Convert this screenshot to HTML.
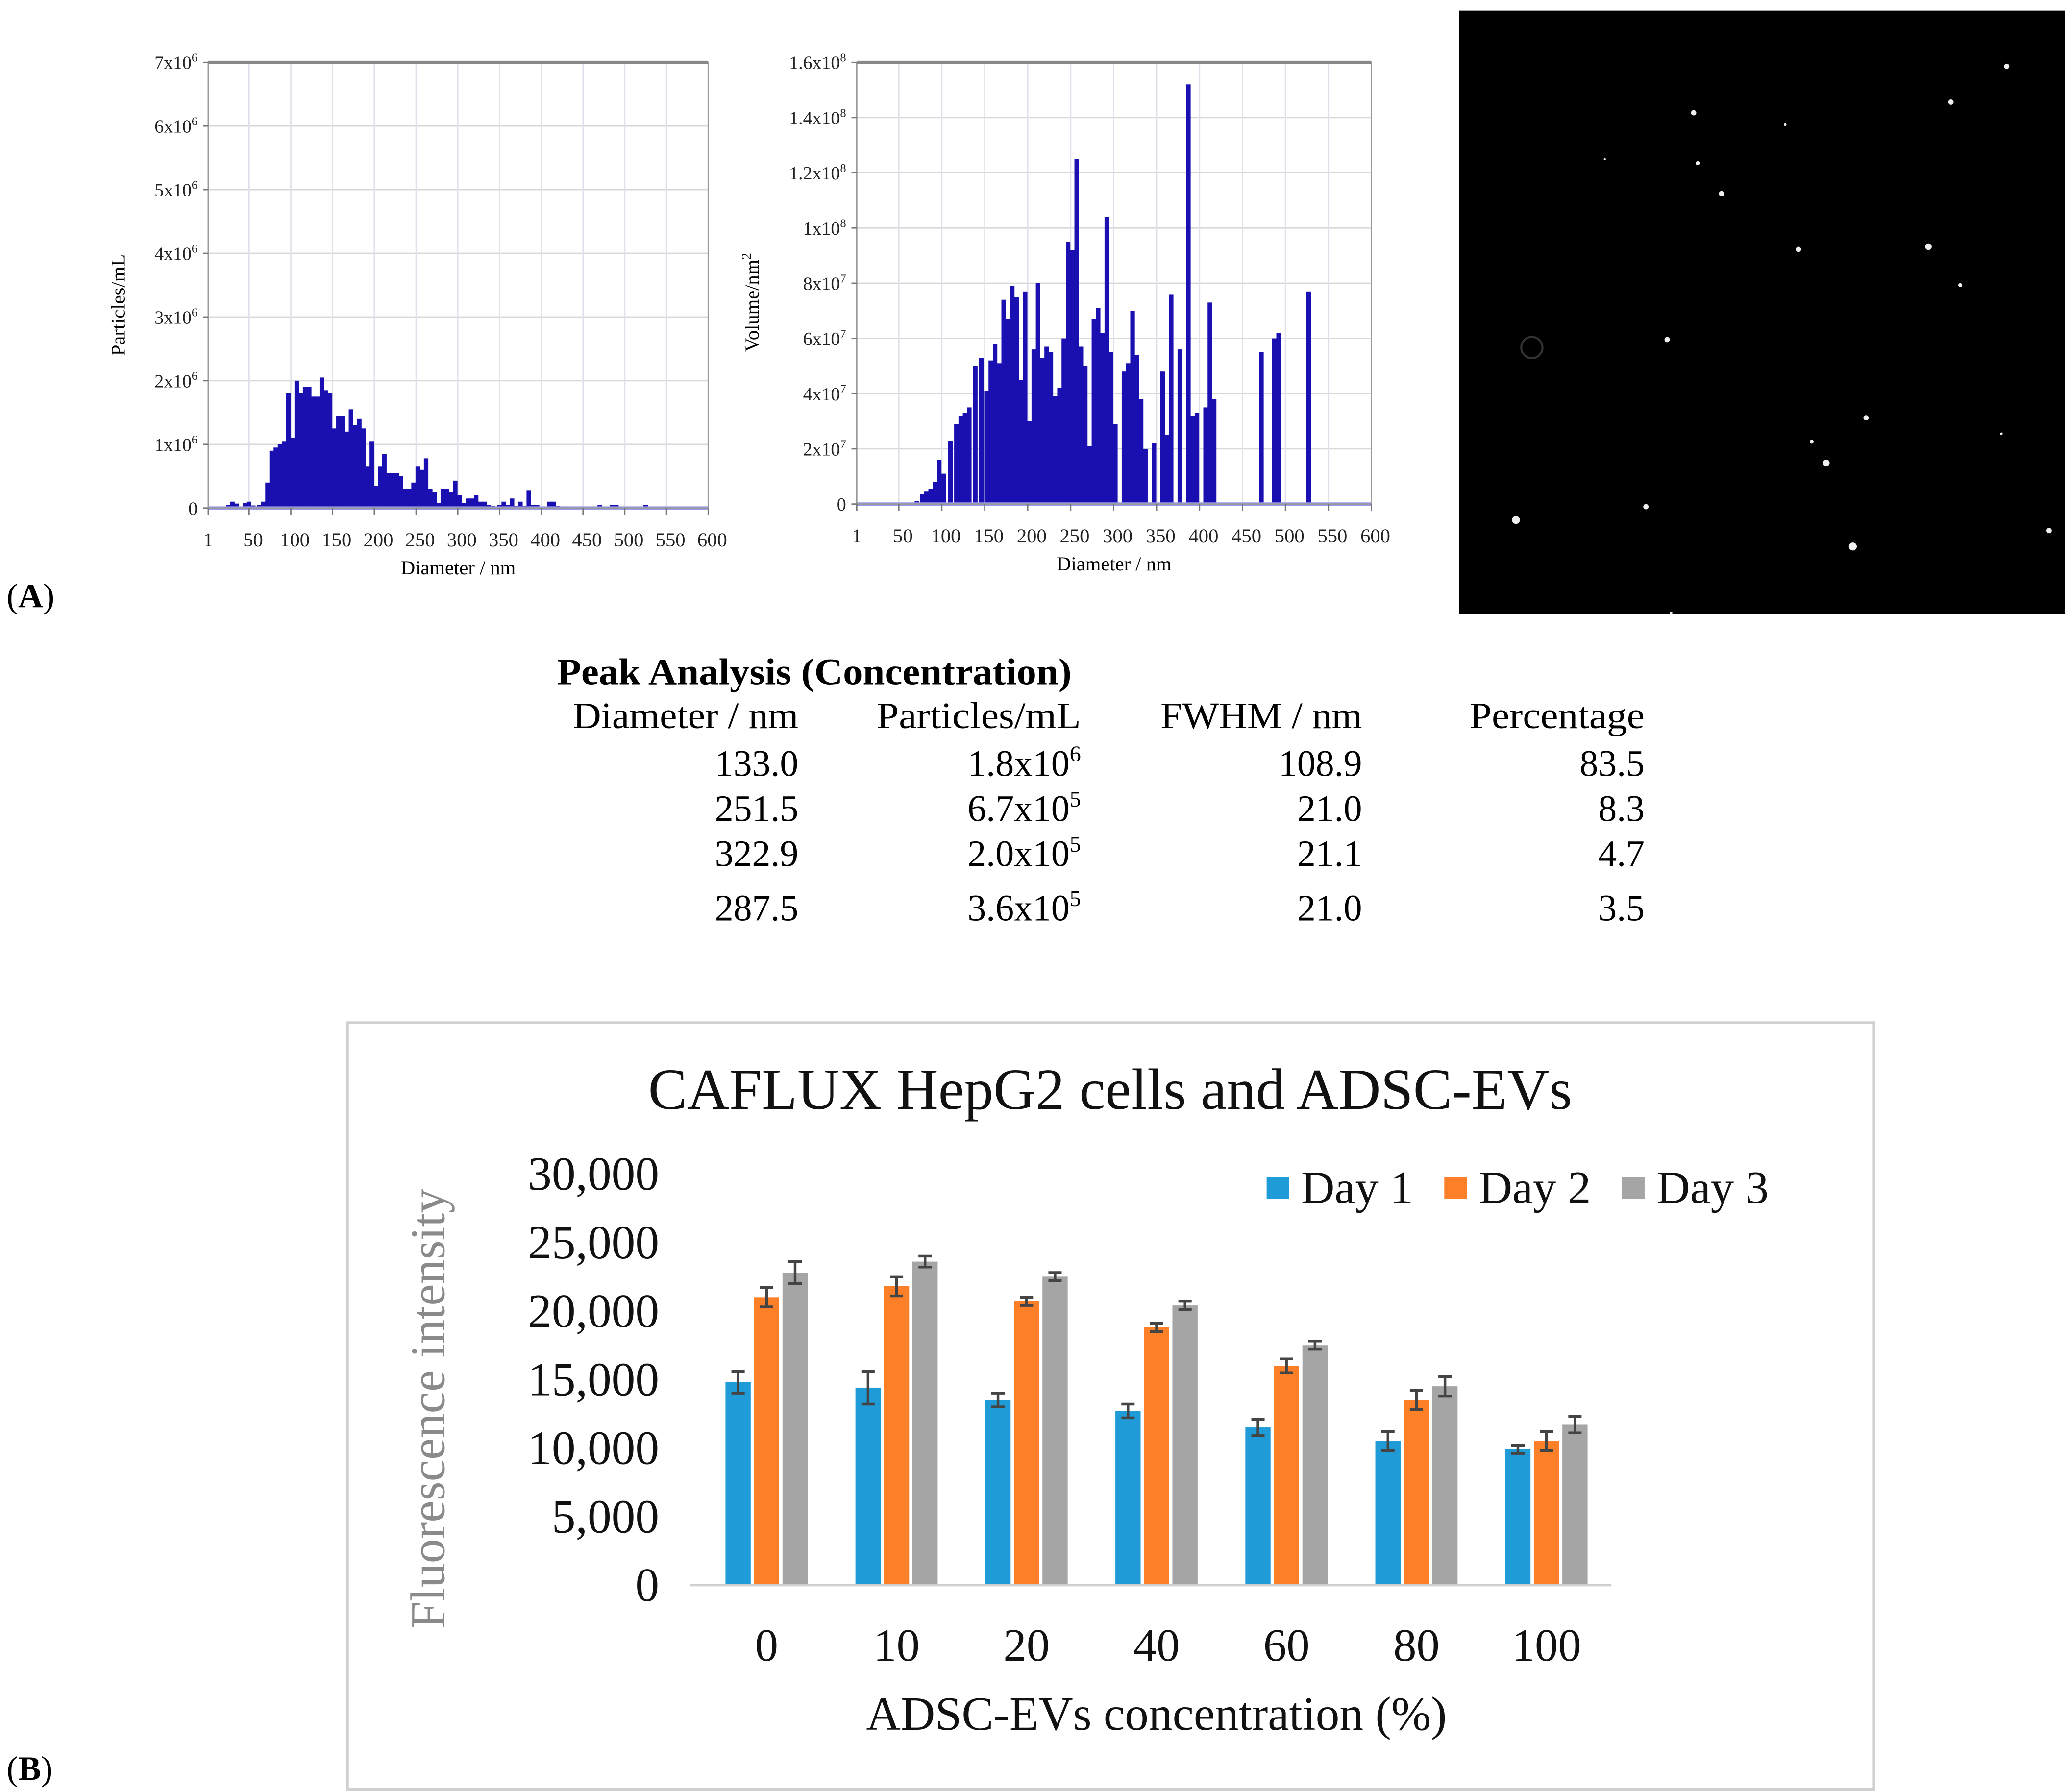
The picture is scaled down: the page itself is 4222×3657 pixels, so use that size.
<!DOCTYPE html>
<html><head><meta charset="utf-8"><style>
html,body{margin:0;padding:0;background:#fff;}
svg{display:block;}
text{font-family:"Liberation Serif",serif;}
</style></head>
<body>
<svg id="fig" width="4222" height="3657" viewBox="0 0 1560 1351" preserveAspectRatio="none" xmlns="http://www.w3.org/2000/svg">
<rect x="0" y="0" width="1560" height="1351" fill="#fff"/>
<g id="h1"></g>
<g id="h2"></g>
<g id="img"></g>
<text x="5" y="458" font-size="26">(<tspan font-weight="bold">A</tspan>)</text>
<text x="5" y="1342" font-size="26">(<tspan font-weight="bold">B</tspan>)</text>
<g id="table" font-size="28">
<text x="420" y="516" font-weight="bold" textLength="388" lengthAdjust="spacingAndGlyphs">Peak Analysis (Concentration)</text>
<text x="432" y="549" textLength="170" lengthAdjust="spacingAndGlyphs">Diameter / nm</text>
<text x="661" y="549" textLength="154" lengthAdjust="spacingAndGlyphs">Particles/mL</text>
<text x="875" y="549" textLength="152" lengthAdjust="spacingAndGlyphs">FWHM / nm</text>
<text x="1108" y="549" textLength="132" lengthAdjust="spacingAndGlyphs">Percentage</text>
</g>
<g id="bchart"></g>
</svg>
<script>
const NS="http://www.w3.org/2000/svg";
function mk(parent,tag,attrs,txt){const e=document.createElementNS(NS,tag);for(const k in attrs)e.setAttribute(k,attrs[k]);if(txt!==undefined)e.textContent=txt;parent.appendChild(e);return e;}

// ---------- Histogram 1 data (bin center nm, particles x1e6) ----------
const h1Bins=[25,30,35,45,50,55,62,67,72,77,82,87,92,97,102,107,112,117,122,127,132,137,142,147,152,157,162,167,172,177,182,187,192,197,202,207,212,217,222,227,232,237,242,247,252,257,262,267,272,277,282,287,292,297,302,307,312,317,322,327,332,337,342,350,355,360,365,370,375,380,385,390,395,410,415,420,470,485,490,525];
const h1Vals=[0.05,0.1,0.07,0.08,0.1,0.04,0.05,0.1,0.4,0.9,0.95,1.0,1.05,1.8,1.1,2.0,1.8,1.9,1.9,1.75,1.75,2.05,1.85,1.8,1.25,1.45,1.45,1.2,1.55,1.3,1.4,1.25,0.65,1.05,0.35,0.65,0.85,0.55,0.55,0.55,0.5,0.3,0.3,0.4,0.65,0.6,0.78,0.3,0.25,0.08,0.3,0.3,0.25,0.43,0.2,0.08,0.15,0.15,0.2,0.1,0.1,0.05,0.03,0.05,0.1,0.05,0.15,0.03,0.1,0.03,0.28,0.05,0.05,0.1,0.1,0.03,0.05,0.05,0.05,0.05];
const h1YTicks=["0","1x10|6","2x10|6","3x10|6","4x10|6","5x10|6","6x10|6","7x10|6"];
const xTickLabels=["1","50","100","150","200","250","300","350","400","450","500","550","600"];
const xTickVals=[1,50,100,150,200,250,300,350,400,450,500,550,600];

// ---------- Histogram 2 data (bin center nm, volume x1e7) ----------
const h2Bins=[71,77,82,87,92,97,102,110,117,122,127,132,139,146,152,157,162,167,172,177,182,187,192,197,202,207,212,217,222,227,232,237,242,247,252,257,262,267,272,277,282,287,292,297,302,312,317,322,327,332,337,347,357,362,367,377,387,392,397,407,412,417,472,487,492,527];
const h2Vals=[0.1,0.35,0.45,0.55,0.8,1.6,1.1,2.3,2.9,3.2,3.3,3.5,5.0,5.3,4.1,5.2,5.8,5.1,7.4,6.7,7.9,7.5,4.5,7.7,3.0,5.6,8.0,5.3,5.7,5.5,3.9,4.2,6.0,9.5,9.2,12.5,5.7,5.0,2.1,6.7,7.1,6.2,10.4,5.5,2.9,4.8,5.1,7.0,5.4,3.8,2.0,2.2,4.8,2.5,7.6,5.6,15.2,3.2,3.3,3.5,7.3,3.8,5.5,6.0,6.2,7.7];
const h2YTicks=["0","2x10|7","4x10|7","6x10|7","8x10|7","1x10|8","1.2x10|8","1.4x10|8","1.6x10|8"];

function tickLabel(g,x,y,s,fs,name){
  const t=mk(g,'text',{x:x,y:y,'text-anchor':'end','font-size':fs,fill:'#222'});
  
  
  const p=s.split('|');
  mk(t,'tspan',{},p[0]);
  if(p[1]) mk(t,'tspan',{'font-size':fs*0.65,dy:-fs*0.4},p[1]);
}

function histogram(g,cfg){
  const {L,R,T,B,ymax,bins,vals,yticks,ylabel,pref,barW}=cfg;
  const xs=v=>L+(v-1)/599*(R-L);
  const ys=v=>B-v/ymax*(B-T);
  for(let i=1;i<yticks.length;i++){const y=B-i*(B-T)/(yticks.length-1);
    const l=mk(g,'line',{x1:L,x2:R,y1:y,y2:y,stroke:'#d8d8d8','stroke-width':1});
    
    }
  xTickVals.forEach(v=>{if(v>1&&v<600){const l=mk(g,'line',{x1:xs(v),x2:xs(v),y1:T,y2:B,stroke:'#e0e0ea','stroke-width':1});
    
    }});
  bins.forEach((b,i)=>{const y=ys(vals[i]);
    const r=mk(g,'rect',{x:xs(b)-barW/2,y:y,width:barW,height:B-y,fill:'#1a0fb0'});
    
    });
  const bl=mk(g,'line',{x1:L,x2:R,y1:B,y2:B,stroke:'#9a9af0','stroke-width':2.5});
  
  
  const f=mk(g,'rect',{x:L,y:T,width:R-L,height:B-T,fill:'none',stroke:'#999','stroke-width':1});
  
  
  const tl=mk(g,'line',{x1:L,x2:R,y1:T,y2:T,stroke:'#888','stroke-width':2.5});
  
  
  yticks.forEach((s,i)=>{const y=B-i*(B-T)/(yticks.length-1);
    mk(g,'line',{x1:L-4,x2:L,y1:y,y2:y,stroke:'#777'});
    tickLabel(g,L-8,y+5,s,14,'y-tick-label');});
  xTickVals.forEach((v,i)=>{const x=xs(v);
    mk(g,'line',{x1:x,x2:x,y1:B,y2:B+5,stroke:'#777'});
    const t=mk(g,'text',{x:x+(i==0?0:3),y:B+29,'text-anchor':'middle','font-size':15,fill:'#222'},xTickLabels[i]);
    
    });
  const xl=mk(g,'text',{x:(L+R)/2,y:B+50,'text-anchor':'middle','font-size':15},'Diameter  /  nm');
  
  
  const yl=mk(g,'text',{x:0,y:0,'text-anchor':'middle','font-size':15,transform:`translate(${cfg.ylx},${cfg.yly}) rotate(-90)`});
  
  
  const p=ylabel.split('|');mk(yl,'tspan',{},p[0]);if(p[1])mk(yl,'tspan',{'font-size':10,dy:-6},p[1]);
}
histogram(document.getElementById('h1'),{L:157,R:534,T:47,B:383,ymax:7,bins:h1Bins,vals:h1Vals,yticks:h1YTicks,ylabel:'Particles/mL',pref:'conc',barW:3.4,ylx:94,yly:230});
histogram(document.getElementById('h2'),{L:646,R:1034,T:47,B:380,ymax:16,bins:h2Bins,vals:h2Vals,yticks:h2YTicks,ylabel:'Volume/nm|2',pref:'vol',barW:3.4,ylx:572,yly:228});

(function(){const g=document.getElementById('img');
  const r=mk(g,'rect',{x:1100,y:8,width:457,height:455,fill:'#000'});
  
  
  const stars=[[1513,50,2],[1277,85,2],[1471,77,2],[1280,123,1.5],[1298,146,2],[1356,188,2],[1454,186,2.5],[1478,215,1.5],[1257,256,2],[1407,315,2],[1366,333,1.5],[1377,349,2.5],[1143,392,3],[1241,382,2],[1397,412,3],[1545,400,2],[1346,94,1],[1509,327,1],[1260,462,1],[1210,120,0.8]];
  stars.forEach(s=>{const c=mk(g,'circle',{cx:s[0],cy:s[1],r:s[2],fill:'#eee'});
    
    });
  const ring=mk(g,'circle',{cx:1155,cy:262,r:8,fill:'none',stroke:'#333','stroke-width':1.5});
  
  
})();

const tblDiam=["133.0","251.5","322.9","287.5"];
const tblPart=["1.8x10|6","6.7x10|5","2.0x10|5","3.6x10|5"];
const tblFwhm=["108.9","21.0","21.1","21.0"];
const tblPct=["83.5","8.3","4.7","3.5"];
(function(){const g=document.getElementById('table');const ys=[585,619,653,694];
  ys.forEach((y,i)=>{
    const a=mk(g,'text',{x:602,y:y,'text-anchor':'end'},tblDiam[i]);
    
    
    const b=mk(g,'text',{x:815,y:y,'text-anchor':'end'});
    
    
    const p=tblPart[i].split('|');mk(b,'tspan',{},p[0]);mk(b,'tspan',{'font-size':17,dy:-11},p[1]);
    const c=mk(g,'text',{x:1027,y:y,'text-anchor':'end'},tblFwhm[i]);
    
    
    const d=mk(g,'text',{x:1240,y:y,'text-anchor':'end'},tblPct[i]);
    
    
  });})();

const categories=["0","10","20","40","60","80","100"];
const day1=[14800,14400,13500,12700,11500,10500,9900];
const day2=[21000,21800,20700,18800,16000,13500,10500];
const day3=[22800,23600,22500,20400,17500,14500,11700];
const err1=[800,1200,500,500,600,700,300];
const err2=[700,700,300,300,500,700,700];
const err3=[800,400,300,300,300,700,600];
const yTicks=[0,5000,10000,15000,20000,25000,30000];
const yTickLabels=["0","5,000","10,000","15,000","20,000","25,000","30,000"];
(function(){const g=document.getElementById('bchart');
  const fr=mk(g,'rect',{x:262,y:771,width:1151,height:578,fill:'#fff',stroke:'#d0d0d0','stroke-width':2});
  
  
  const tt=mk(g,'text',{x:837,y:836,'text-anchor':'middle','font-size':44,fill:'#111'},'CAFLUX HepG2 cells and ADSC-EVs');
  
  
  const B=1195,L=520,R=1215;
  const ys=v=>B-v/30000*(B-885);
  const xc=i=>578+i*98;
  yTicks.forEach((v,i)=>{const t=mk(g,'text',{x:497,y:ys(v)+12,'text-anchor':'end','font-size':36,fill:'#111'},yTickLabels[i]);
    
    });
  const series=[[day1,err1,'#1f9bd7',-21.5,'day1'],[day2,err2,'#fd7f28',0,'day2'],[day3,err3,'#a5a5a5',21.5,'day3']];
  categories.forEach((c,i)=>{
    series.forEach(s=>{const v=s[0][i],e=s[1][i],x=xc(i)+s[3];
      const r=mk(g,'rect',{x:x-9.5,y:ys(v),width:19,height:B-ys(v),fill:s[2]});
      
      
      const eb=mk(g,'path',{d:`M${x},${ys(v+e)}V${ys(v-e)}M${x-5},${ys(v+e)}H${x+5}M${x-5},${ys(v-e)}H${x+5}`,stroke:'#444','stroke-width':2,fill:'none'});
      
      
    });
    const t=mk(g,'text',{x:xc(i),y:1252,'text-anchor':'middle','font-size':35,fill:'#111'},c);
    
    
  });
  const ax=mk(g,'line',{x1:L,x2:R,y1:B,y2:B,stroke:'#d0d0d0','stroke-width':2});
  
  
  const xt=mk(g,'text',{x:872,y:1304,'text-anchor':'middle','font-size':36,fill:'#111'},'ADSC-EVs concentration (%)');
  
  
  const yt=mk(g,'text',{x:0,y:0,'text-anchor':'middle','font-size':37,fill:'#8a8a8a',transform:'translate(335,1062) rotate(-90)'},'Fluorescence intensity');
  
  
  const leg=[['Day 1','#1f9bd7',955],['Day 2','#fd7f28',1089],['Day 3','#a5a5a5',1223]];
  leg.forEach(l=>{const r=mk(g,'rect',{x:l[2],y:887,width:17,height:17,fill:l[1]});
    
    
    const t=mk(g,'text',{x:l[2]+26,y:907,'font-size':35,fill:'#111'},l[0]);
    
    });
})();
</script>
</body></html>
